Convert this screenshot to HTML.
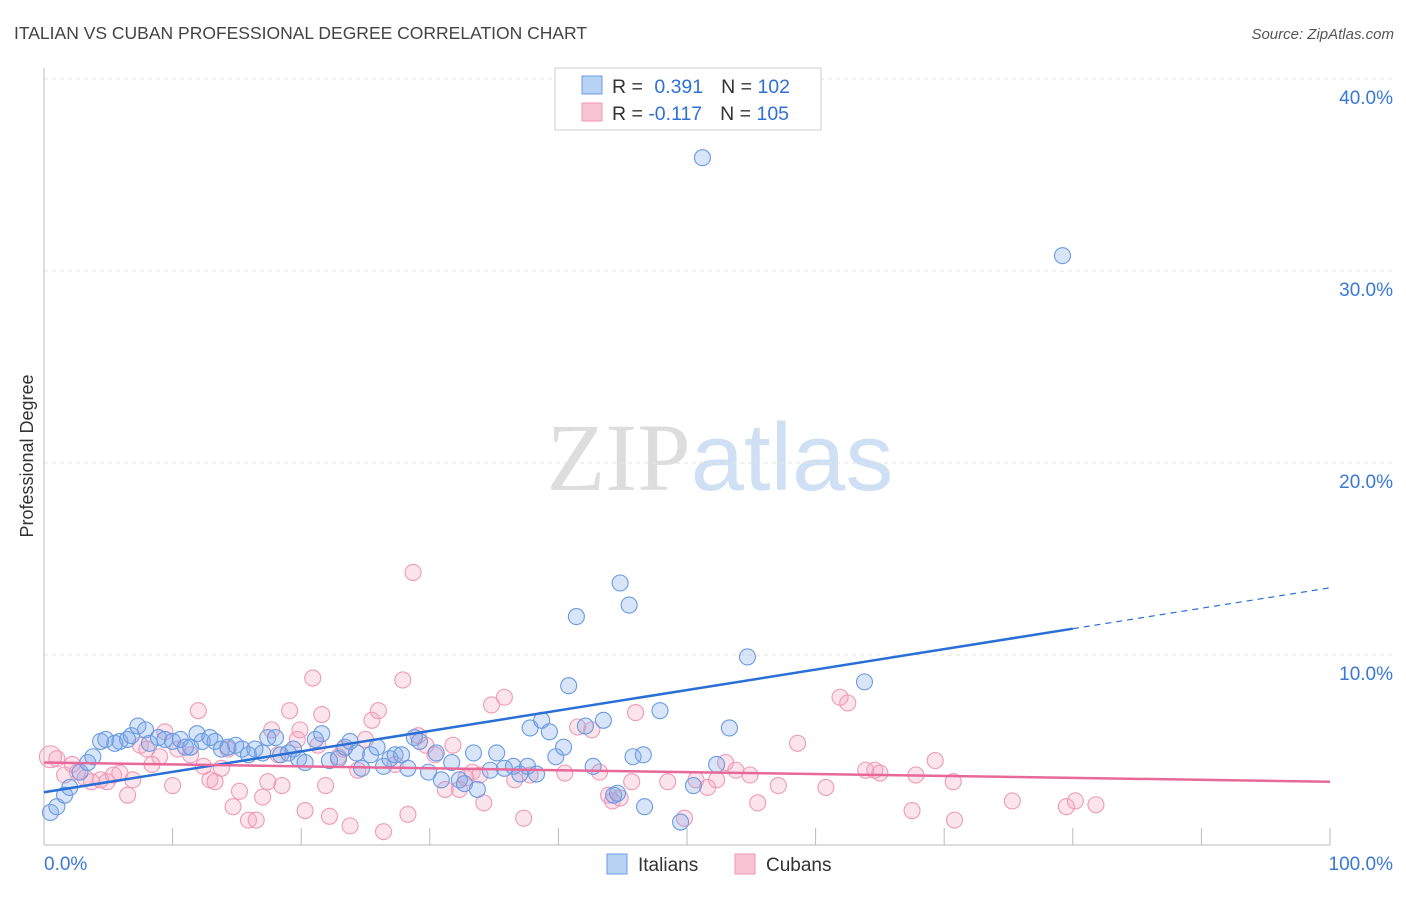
<!DOCTYPE html>
<html><head><meta charset="utf-8"><style>
body{margin:0;background:#fff;font-family:"Liberation Sans",sans-serif}
</style></head><body>
<svg id="chart" width="1406" height="892" viewBox="0 0 1406 892" xmlns="http://www.w3.org/2000/svg" style="font-family:'Liberation Sans',sans-serif">
<text x="14" y="39" font-size="17.5" fill="#444">ITALIAN VS CUBAN PROFESSIONAL DEGREE CORRELATION CHART</text>
<text x="1394" y="39" font-size="15" fill="#555" text-anchor="end" font-style="italic">Source: ZipAtlas.com</text>
<text x="720" y="490" font-size="96" text-anchor="middle"><tspan fill="#ddd" font-family="Liberation Serif">ZIP</tspan><tspan fill="#cfe0f5">atlas</tspan></text>
<text transform="translate(33,456) rotate(-90)" font-size="18" fill="#333" text-anchor="middle">Professional Degree</text>
<g id="grid"></g><g id="axes"></g><g id="trends"></g><g id="pts"></g>
<g>
<rect x="555" y="68" width="266" height="62" fill="#fff" stroke="#ccc"/>
<rect x="582" y="76" width="20" height="18" fill="#b8d2f3" stroke="#6a9be0"/>
<rect x="582" y="103" width="20" height="18" fill="#f8c4d4" stroke="#ee97b3"/>
<text x="612" y="93" font-size="19.5" fill="#333">R = <tspan fill="#2f6fd6" dx="6">0.391</tspan><tspan fill="#333" dx="18">N = </tspan><tspan fill="#2f6fd6">102</tspan></text>
<text x="612" y="120" font-size="19.5" fill="#333">R = <tspan fill="#2f6fd6">-0.117</tspan><tspan fill="#333" dx="18">N = </tspan><tspan fill="#2f6fd6">105</tspan></text>
</g>
<g><rect x="607" y="854" width="20" height="20" fill="#b8d2f3" stroke="#6a9be0"/><text x="638" y="871" font-size="19" fill="#333">Italians</text></g>
<g><rect x="735" y="854" width="20" height="20" fill="#f8c4d4" stroke="#ee97b3"/><text x="766" y="871" font-size="19" fill="#333">Cubans</text></g>
</svg>
<script>
const italiansX=[0.5,1.0,1.6,2.0,2.8,3.4,3.8,4.4,4.8,5.5,5.9,6.5,6.8,7.3,7.9,8.2,8.9,9.4,10.0,10.6,11.0,11.4,11.9,12.3,12.9,13.3,13.8,14.3,14.9,15.4,15.9,16.4,17.0,17.4,18.0,18.4,19.0,19.4,19.8,20.3,21.1,21.6,22.2,22.9,23.4,23.8,24.3,24.7,25.4,25.9,26.4,26.9,27.3,27.8,28.3,28.8,29.2,29.9,30.5,30.9,31.7,32.3,32.7,33.4,33.7,34.7,35.2,35.8,36.5,37.0,37.6,38.3,37.8,38.7,39.3,39.8,40.4,40.8,41.4,42.1,42.7,43.5,44.3,44.6,44.8,45.5,45.8,46.6,46.7,47.9,49.5,50.5,51.2,52.3,53.3,54.7,63.8,79.2];
const italiansY=[1.8,2.1,2.7,3.1,3.9,4.4,4.7,5.5,5.6,5.4,5.5,5.6,5.8,6.3,6.1,5.4,5.7,5.6,5.5,5.6,5.2,5.2,5.9,5.5,5.7,5.5,5.1,5.2,5.3,5.1,4.8,5.1,4.9,5.7,5.7,4.8,4.9,5.1,4.6,4.4,5.6,5.9,4.5,4.6,5.2,5.5,4.9,4.1,4.8,5.2,4.2,4.6,4.8,4.8,4.1,5.7,5.5,3.9,4.9,3.5,4.4,3.5,3.3,4.9,3.0,4.0,4.9,4.1,4.2,3.8,4.2,3.8,6.2,6.6,6.0,4.7,5.2,8.4,12.0,6.3,4.2,6.6,2.7,2.8,13.75,12.6,4.7,4.8,2.1,7.1,1.3,3.2,35.9,4.3,6.2,9.9,8.6,30.8];
const cubansX=[0.5,1.0,1.6,2.2,2.6,3.2,3.7,4.4,4.9,5.4,5.9,6.5,6.9,7.5,8.0,8.4,9.0,9.4,10.0,10.4,11.4,12.0,12.4,12.9,13.3,13.8,14.3,14.7,15.2,15.9,16.5,17.0,17.4,17.7,18.2,18.5,19.1,19.7,19.9,20.3,20.9,21.3,21.6,21.9,22.2,22.9,23.3,23.8,24.4,25.0,25.5,26.0,26.4,27.3,27.9,28.3,28.7,29.1,29.7,30.4,31.2,31.8,32.3,32.8,33.3,33.9,34.2,34.8,35.8,36.6,37.3,37.8,40.5,41.5,42.6,43.2,43.9,44.2,44.8,45.7,46.0,48.5,49.8,50.7,51.6,52.3,53.0,53.8,54.9,55.5,57.1,58.6,60.8,61.9,62.5,63.9,64.6,65.0,67.5,67.8,69.3,70.8,70.7,75.3,79.5,80.2,81.8];
const cubansY=[4.7,4.6,3.75,4.3,3.9,3.6,3.4,3.5,3.4,3.75,3.85,2.7,3.5,5.3,5.1,4.3,4.7,6.0,3.2,5.1,4.8,7.1,4.2,3.5,3.4,4.1,5.1,2.1,2.9,1.4,1.4,2.6,3.4,6.1,4.8,3.2,7.1,5.6,6.1,1.9,8.8,5.3,6.9,3.2,1.6,4.7,5.1,1.1,4.0,5.6,6.6,7.1,0.8,4.3,8.7,1.7,14.3,5.8,5.3,4.8,3.0,5.3,3.0,3.6,3.9,3.75,2.3,7.4,7.8,3.5,1.5,3.75,3.85,6.25,6.1,3.9,2.7,2.4,2.55,3.4,7.0,3.4,1.5,3.5,3.1,3.5,4.4,4.0,3.75,2.3,3.2,5.4,3.1,7.8,7.5,4.0,4.0,3.85,1.9,3.75,4.5,1.4,3.4,2.4,2.1,2.4,2.2];
const xTicks=[0,10,20,30,40,50,60,70,80,90,100];
const yTicks=[10,20,30,40];
const yTickLabels=["10.0%","20.0%","30.0%","40.0%"];
const italiansTrend=[2.85,13.5];
const cubansTrend=[4.4,3.4];
const italiansSolidEnd=80;

const NS="http://www.w3.org/2000/svg";
const X=v=>44+v*12.86, Y=v=>847-v*19.2;
function mk(tag,attrs,parent){const e=document.createElementNS(NS,tag);for(const k in attrs)e.setAttribute(k,attrs[k]);parent.appendChild(e);return e;}
const grid=document.getElementById('grid'),axes=document.getElementById('axes'),tr=document.getElementById('trends'),pts=document.getElementById('pts');
yTicks.forEach((t,i)=>{
 const l=mk('line',{x1:44,x2:1392,y1:Y(t),y2:Y(t),stroke:'#e2e2e2','stroke-dasharray':'4,4'},grid);
 
 
 const tx=mk('text',{x:1393,y:Y(t)+25,'font-size':19,fill:'#3a78d6','text-anchor':'end'},grid);
 tx.textContent=yTickLabels[i];
 
 
});
const ax=mk('line',{x1:44,x2:44,y1:68,y2:845,stroke:'#bbb'},axes);


const bx=mk('line',{x1:44,x2:1330,y1:845,y2:845,stroke:'#bbb'},axes);


xTicks.forEach(t=>{if(t===0)return;
 const l=mk('line',{x1:X(t),x2:X(t),y1:828,y2:845,stroke:'#bbb'},axes);
 
 });
const xl0=mk('text',{x:44,y:870,'font-size':19,fill:'#3a78d6'},axes);xl0.textContent='0.0%';


const xl1=mk('text',{x:1393,y:870,'font-size':19,fill:'#3a78d6','text-anchor':'end'},axes);xl1.textContent='100.0%';


function drawPts(xs,ys,fill,stroke,name){xs.forEach((v,i)=>{
 const c=mk('circle',{cx:X(v),cy:Y(ys[i]),r:(name==='cuban-point'&&i===0)?11:8,fill:fill,stroke:stroke,'stroke-width':1.1},pts);
 
 });}
drawPts(cubansX,cubansY,'rgba(245,165,192,0.3)','#ee9ab6','cuban-point');
drawPts(italiansX,italiansY,'rgba(125,170,235,0.3)','#6a9be0','italian-point');
const ty=(t,x)=>t[0]+(t[1]-t[0])*x/100;
const b1=mk('line',{x1:X(0),y1:Y(ty(italiansTrend,0)),x2:X(italiansSolidEnd),y2:Y(ty(italiansTrend,italiansSolidEnd)),stroke:'#2a6fd6','stroke-width':2.5},tr);


const b2=mk('line',{x1:X(italiansSolidEnd),y1:Y(ty(italiansTrend,italiansSolidEnd)),x2:X(100),y2:Y(ty(italiansTrend,100)),stroke:'#2a6fd6','stroke-width':1.2,'stroke-dasharray':'6,5'},tr);


const p1=mk('line',{x1:X(0),y1:Y(ty(cubansTrend,0)),x2:X(100),y2:Y(ty(cubansTrend,100)),stroke:'#e8689a','stroke-width':2.5},tr);


document.getElementById('chart').appendChild(tr);
</script>
</body></html>
